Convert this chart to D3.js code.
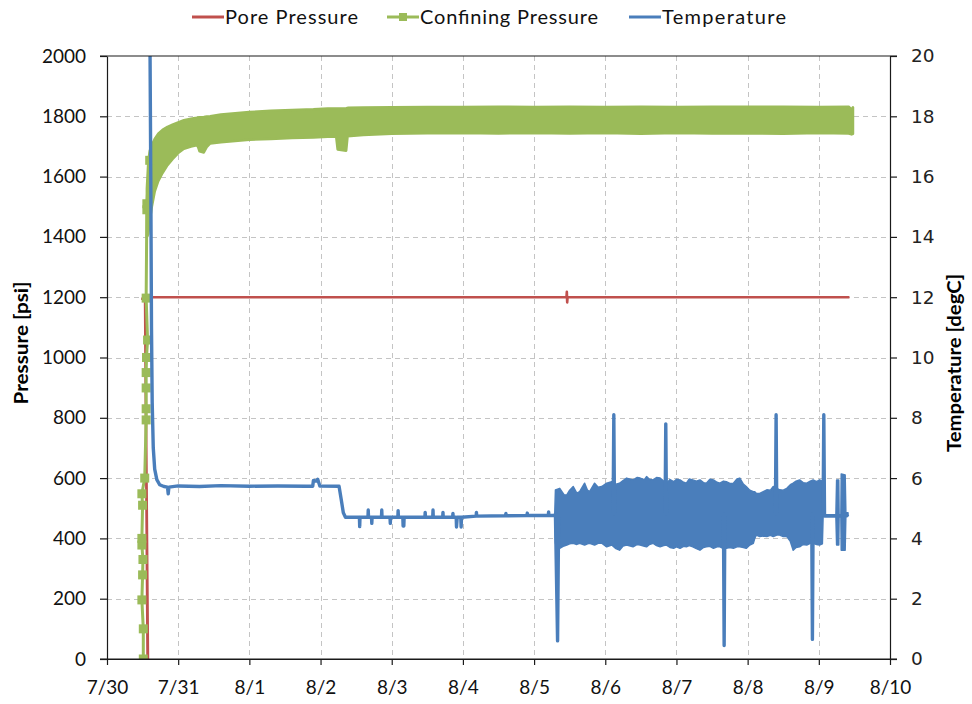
<!DOCTYPE html>
<html>
<head>
<meta charset="utf-8">
<script src="https://cdn.jsdelivr.net/npm/d3@7"></script>
<style>
  html, body { margin: 0; padding: 0; background: #fff; }
  svg { display: block; }
</style>
</head>
<body>
<svg id="chart" width="972" height="704"></svg>
<script>
// ---- data (time in days after 7/30 00:00) ----
const dayLabels = ["7/30","7/31","8/1","8/2","8/3","8/4","8/5","8/6","8/7","8/8","8/9","8/10"];
const pressureTicks = [0,200,400,600,800,1000,1200,1400,1600,1800,2000];
const temperatureTicks = [0,2,4,6,8,10,12,14,16,18,20];

// Pore pressure [psi]: [day, psi]
const poreSeries = [
  [0.48,1195],[0.535,1195],[0.57,0],[0.575,0],[0.535,1200],[0.56,1200],
  [6.455,1200],[6.46,1218],[6.465,1183],[6.47,1200],[10.43,1200]
];

// Confining pressure [psi]: logged readings during the ramp, [day, psi]
const confRamp = [
  [0.51,0],[0.51,100],[0.49,196],[0.50,279],[0.505,330],[0.49,378],[0.49,400],
  [0.50,510],[0.49,548],[0.53,600],[0.55,793],[0.55,830],[0.55,899],[0.55,950],
  [0.555,1000],[0.57,1058],[0.55,1197],[0.56,1490],[0.56,1510],[0.60,1654]
];

// Confining pressure [psi]: min / max of the cycling signal, [day, low, high]
const confBand = [
  [0.56,1400,1560],[0.58,1410,1650],[0.60,1450,1685],[0.63,1500,1705],[0.67,1550,1725],
  [0.72,1585,1742],[0.78,1612,1755],[0.85,1638,1765],[0.92,1658,1772],[1.00,1678,1780],
  [1.08,1692,1787],[1.18,1700,1792],[1.26,1704,1795],[1.28,1698,1796],[1.30,1684,1797],
  [1.36,1680,1798],[1.40,1698,1799],[1.45,1710,1800],[1.6,1714,1806],[1.8,1718,1810],
  [2.0,1722,1814],[2.3,1725,1818],[2.6,1728,1821],[2.9,1730,1823],[3.1,1732,1826],
  [3.22,1732,1826],[3.24,1690,1826],[3.36,1686,1827],[3.38,1734,1828],[3.6,1738,1829],
  [4.0,1742,1830],[4.5,1744,1831],[5.0,1745,1831],[5.5,1743,1832],[6.0,1745,1831],
  [6.5,1743,1832],[7.0,1745,1831],[7.5,1742,1832],[8.0,1745,1831],[8.5,1743,1832],
  [9.0,1744,1832],[9.5,1742,1832],[10.0,1745,1831],[10.42,1743,1832],[10.46,1740,1822],
  [10.48,1742,1830]
];

// Temperature [degC]: trace, [day, degC]
const tempTrace = [
  [0.60,22],[0.615,16],[0.625,11],[0.635,8.5],[0.65,7.0],[0.67,6.3],[0.70,5.95],
  [0.74,5.78],[0.80,5.72],[0.85,5.70],[0.86,5.48],[0.87,5.70],[1.0,5.74],[1.3,5.72],
  [1.6,5.75],[2.0,5.73],[2.4,5.74],[2.8,5.73],[2.89,5.73],[2.90,5.92],[2.94,5.90],
  [2.96,5.96],[2.99,5.74],[3.26,5.73],[3.29,5.3],[3.32,4.85],[3.35,4.70],
  [3.546,4.70],[3.55,4.39],[3.554,4.70],[3.666,4.70],[3.67,4.94],[3.674,4.70],
  [3.716,4.70],[3.72,4.50],[3.724,4.70],[3.856,4.70],[3.86,4.94],[3.864,4.70],
  [3.976,4.70],[3.98,4.50],[3.984,4.70],[4.086,4.70],[4.09,4.92],[4.094,4.70],
  [4.156,4.70],[4.16,4.41],[4.17,4.41],[4.174,4.70],[4.466,4.70],[4.47,4.86],
  [4.474,4.70],[4.576,4.70],[4.58,4.94],[4.584,4.70],[4.716,4.70],[4.72,4.86],
  [4.724,4.70],[4.856,4.70],[4.86,4.83],[4.864,4.70],[4.906,4.70],[4.91,4.38],
  [4.92,4.70],[4.97,4.70],[4.975,4.38],[4.98,4.70],[5.186,4.74],[5.19,4.86],
  [5.194,4.74],[5.60,4.75],[5.604,4.83],[5.608,4.75],[5.90,4.76],[5.904,4.84],
  [5.908,4.76],[6.20,4.76],[6.204,4.88],[6.208,4.76],[6.28,4.76],
  [6.30,4.8],[6.33,0.6],[6.345,4.8],[7.11,4.8],[7.12,8.1],[7.13,4.8],
  [7.84,4.8],[7.85,7.8],[7.86,4.8],[8.66,4.8],[8.67,0.45],[8.68,4.8],
  [9.39,4.8],[9.40,8.1],[9.41,4.8],[9.90,4.8],[9.91,0.65],[9.92,4.8],
  [10.06,4.8],[10.07,8.1],[10.08,4.75],[10.25,4.75],[10.39,4.75],[10.41,4.8]
];

// Temperature [degC]: min / max of the fluctuating signal from 8/5 on, [day, low, high]
const tempBand = [
  [6.29,4.75,4.80],[6.30,3.84,5.61],[6.36,3.67,5.66],[6.42,3.75,5.45],[6.46,3.78,5.44],
  [6.50,3.82,5.60],[6.55,3.84,5.72],[6.60,3.80,5.50],[6.64,3.84,5.55],[6.71,3.78,5.83],
  [6.75,3.82,5.60],[6.78,3.84,5.55],[6.85,3.78,5.83],[6.90,3.84,5.70],[6.95,3.84,5.72],
  [7.02,3.72,5.83],[7.09,3.78,5.88],[7.15,3.66,5.80],[7.20,3.61,5.83],[7.25,3.75,5.92],
  [7.30,3.78,6.00],[7.39,3.72,5.94],[7.45,3.80,6.02],[7.49,3.78,6.00],[7.55,3.74,5.95],
  [7.58,3.72,6.05],[7.62,3.80,5.96],[7.67,3.84,5.94],[7.72,3.76,6.02],[7.77,3.72,6.00],
  [7.82,3.76,5.90],[7.86,3.78,5.83],[7.91,3.70,5.95],[7.96,3.67,5.88],[8.00,3.72,5.96],
  [8.05,3.67,5.94],[8.10,3.74,5.86],[8.14,3.72,5.83],[8.18,3.76,5.97],[8.23,3.72,5.94],
  [8.28,3.66,5.90],[8.33,3.61,5.94],[8.38,3.70,5.85],[8.42,3.72,5.83],[8.47,3.74,5.96],
  [8.52,3.67,5.94],[8.57,3.72,5.86],[8.61,3.72,5.83],[8.66,3.66,5.90],[8.70,3.67,5.88],
  [8.75,3.70,5.82],[8.80,3.67,5.83],[8.85,3.72,5.97],[8.89,3.72,6.00],[8.94,3.70,5.80],
  [8.98,3.67,5.72],[9.03,3.78,5.60],[9.08,3.84,5.55],[9.10,4.00,5.55],[9.12,4.11,5.50],
  [9.17,4.06,5.49],[9.22,4.08,5.55],[9.27,4.06,5.61],[9.32,4.10,5.60],[9.36,4.06,5.72],
  [9.41,4.11,5.66],[9.45,4.11,5.61],[9.50,4.06,5.60],[9.55,4.06,5.66],[9.60,3.90,5.78],
  [9.64,3.61,5.83],[9.68,3.70,5.90],[9.73,3.72,5.94],[9.78,3.80,5.85],[9.83,3.78,5.83],
  [9.88,3.84,5.90],[9.92,3.84,5.94],[9.97,3.80,5.88],[10.01,3.78,5.94],[10.05,3.82,5.90],
  [10.06,4.72,4.78],[10.24,4.72,4.78],[10.25,3.78,5.94],[10.28,3.78,5.94],[10.285,4.72,4.78],
  [10.31,4.72,4.78],[10.315,3.61,6.14],[10.37,3.61,6.10],[10.38,4.75,4.85],[10.41,4.75,4.85]
];

// ---- layout ----
const W = 972, H = 704;
const plot = { left: 107, right: 890, top: 56, bottom: 659 };
const colors = { pore: "#C0504D", conf: "#9BBB59", temp: "#4A7EBB" };
const labelFont = 'Lato, "Open Sans", sans-serif';

const svg = d3.select("#chart");
svg.append("rect").attr("width", W).attr("height", H).attr("fill", "#fff");

const x  = d3.scaleLinear().domain([0, 11]).range([plot.left, plot.right]);
const yP = d3.scaleLinear().domain([0, 2000]).range([plot.bottom, plot.top]);
const yT = d3.scaleLinear().domain([0, 20]).range([plot.bottom, plot.top]);

svg.append("defs").append("clipPath").attr("id", "plotClip")
  .append("rect")
  .attr("x", plot.left).attr("y", plot.top)
  .attr("width", plot.right - plot.left).attr("height", plot.bottom - plot.top);

// gridlines
const grid = svg.append("g").attr("stroke", "#c4c4c4").attr("stroke-width", 1)
  .attr("stroke-dasharray", "5,4");
grid.selectAll(".h").data(pressureTicks.slice(1, -1)).join("line")
  .attr("x1", plot.left).attr("x2", plot.right)
  .attr("y1", d => Math.round(yP(d)) + 0.5).attr("y2", d => Math.round(yP(d)) + 0.5);
grid.selectAll(".v").data(d3.range(1, dayLabels.length - 1)).join("line")
  .attr("y1", plot.top).attr("y2", plot.bottom)
  .attr("x1", d => Math.round(x(d)) + 0.5).attr("x2", d => Math.round(x(d)) + 0.5);

const series = svg.append("g").attr("clip-path", "url(#plotClip)");

// pore pressure
series.append("path").datum(poreSeries)
  .attr("fill", "none").attr("stroke", colors.pore).attr("stroke-width", 2.6)
  .attr("stroke-linejoin", "round")
  .attr("d", d3.line().x(d => x(d[0])).y(d => yP(d[1])));

// confining pressure: band of the cycling signal + ramp readings
series.append("path").datum(confBand)
  .attr("fill", colors.conf).attr("stroke", colors.conf).attr("stroke-width", 2.5)
  .attr("stroke-linejoin", "round")
  .attr("d", d3.area().x(p => x(p[0])).y0(p => yP(p[1])).y1(p => yP(p[2])));

series.append("path").datum(confRamp.concat([[confBand[0][0], confBand[0][1]]]))
  .attr("fill", "none").attr("stroke", colors.conf).attr("stroke-width", 3)
  .attr("d", d3.line().x(d => x(d[0])).y(d => yP(d[1])));
series.selectAll(".confMark").data(confRamp).join("rect")
  .attr("x", d => x(d[0]) - 4.5).attr("y", d => yP(d[1]) - 4.5)
  .attr("width", 9).attr("height", 9).attr("fill", colors.conf);

// temperature: fluctuating band + trace with excursions
series.append("path").datum(tempBand)
  .attr("fill", colors.temp).attr("stroke", colors.temp).attr("stroke-width", 1.5)
  .attr("stroke-linejoin", "round")
  .attr("d", d3.area().x(p => x(p[0])).y0(p => yT(p[1])).y1(p => yT(p[2])));

series.append("path").datum(tempTrace)
  .attr("fill", "none").attr("stroke", colors.temp).attr("stroke-width", 3.4)
  .attr("stroke-linejoin", "round")
  .attr("d", d3.line().x(d => x(d[0])).y(d => yT(d[1])));

// axes
const axisColor = "#1a1a1a";
const styleAxis = g => {
  g.select(".domain").attr("stroke", axisColor).attr("stroke-width", 1.2);
  g.selectAll(".tick line").attr("stroke", axisColor).attr("stroke-width", 1.2);
};

svg.append("g").attr("transform", `translate(${plot.left},0)`)
  .call(d3.axisLeft(yP).tickValues(pressureTicks).tickFormat(d3.format("d"))
    .tickSize(7).tickSizeOuter(0).tickPadding(14))
  .call(styleAxis)
  .call(g => g.selectAll(".tick text").attr("font-size", 19)
    .attr("font-family", labelFont).attr("fill", "#111"));

svg.append("g").attr("transform", `translate(${plot.right},0)`)
  .call(d3.axisRight(yT).tickValues(temperatureTicks).tickSize(7).tickSizeOuter(0).tickPadding(14))
  .call(styleAxis)
  .call(g => g.selectAll(".tick text").attr("font-size", 18.5)
    .attr("font-family", '"DejaVu Sans", Verdana, sans-serif').attr("fill", "#222"));

svg.append("g").attr("transform", `translate(0,${plot.bottom})`)
  .call(d3.axisBottom(x).tickValues(d3.range(dayLabels.length)).tickFormat(i => dayLabels[i])
    .tickSize(6).tickSizeOuter(0).tickPadding(16))
  .call(styleAxis)
  .call(g => g.selectAll(".tick text").attr("font-size", 19)
    .attr("font-family", labelFont).attr("fill", "#111"));

// top and bottom border lines with outer ticks
[plot.top, plot.bottom].forEach(yy => {
  svg.append("line")
    .attr("x1", plot.left - 7).attr("x2", plot.right + 7)
    .attr("y1", yy).attr("y2", yy)
    .attr("stroke", axisColor).attr("stroke-width", 1.2);
});

// axis titles
svg.append("text")
  .attr("transform", "translate(28,343) rotate(-90)")
  .attr("text-anchor", "middle").attr("font-family", labelFont).attr("font-weight", "bold")
  .attr("font-size", 18).attr("fill", "#000")
  .attr("textLength", 123).attr("lengthAdjust", "spacingAndGlyphs")
  .text("Pressure  [psi]");
svg.append("text")
  .attr("transform", "translate(961,363) rotate(-90)")
  .attr("text-anchor", "middle").attr("font-family", labelFont).attr("font-weight", "bold")
  .attr("font-size", 18).attr("fill", "#000")
  .attr("textLength", 178).attr("lengthAdjust", "spacingAndGlyphs")
  .text("Temperature  [degC]");

// legend
const legendItems = [
  { name: "Pore Pressure", color: colors.pore, x: 192, width: 133, marker: false },
  { name: "Confining Pressure", color: colors.conf, x: 387, width: 178, marker: true },
  { name: "Temperature", color: colors.temp, x: 629, width: 124, marker: false }
];
const legend = svg.append("g");
legendItems.forEach(it => {
  legend.append("line").attr("x1", it.x).attr("x2", it.x + 32).attr("y1", 17).attr("y2", 17)
    .attr("stroke", it.color).attr("stroke-width", 3);
  if (it.marker) {
    legend.append("rect").attr("x", it.x + 12).attr("y", 13).attr("width", 8).attr("height", 8)
      .attr("fill", it.color);
  }
  legend.append("text").attr("x", it.x + 33).attr("y", 24)
    .attr("font-family", labelFont).attr("font-size", 20).attr("fill", "#111")
    .attr("textLength", it.width).attr("lengthAdjust", "spacing")
    .text(it.name);
});
</script>
</body>
</html>
